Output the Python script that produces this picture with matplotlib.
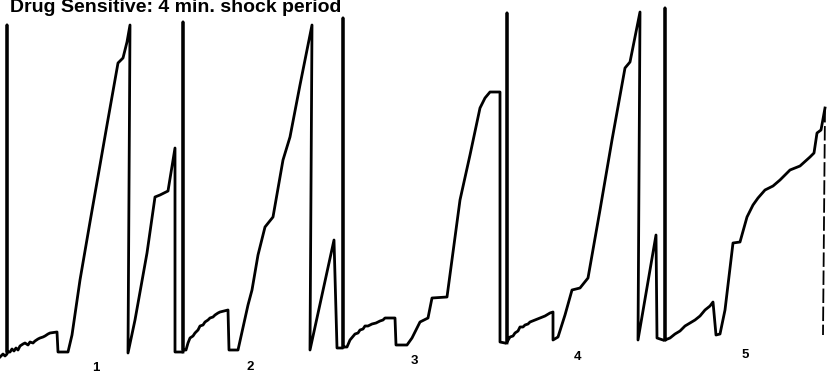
import matplotlib.pyplot as plt

# cumulative record (x = paper position, y = pen height, 0 at top)
rec1_x = [0, 3, 5, 7, 7, 7, 10, 12, 14, 16, 18, 20, 23, 25, 28, 30, 33, 35, 38, 40, 43, 45, 48, 50, 57,
          58, 68, 72, 80, 90, 100, 107, 118, 123, 127, 130, 128, 135, 147, 155, 160, 168, 175, 175, 182]
rec1_y = [357, 354, 356, 354, 25, 352, 352, 349, 351, 348, 350, 346, 344, 343, 345, 342, 343, 341, 339,
          338, 337, 336, 334, 333, 332, 352, 352, 335, 280, 222, 165, 125, 63, 58, 42, 25, 353, 320, 253,
          197, 195, 191, 148, 352, 352]

rec2_x = [183, 183, 183, 186, 188, 190, 193, 195, 198, 200, 203, 205, 208, 210, 213, 215, 218, 220,
          228, 229, 238, 248, 252, 258, 265, 273, 283, 290, 300, 312, 310, 334, 337, 342]
rec2_y = [352, 22, 350, 350, 343, 338, 336, 333, 330, 326, 325, 322, 320, 318, 317, 315, 313, 312,
          310, 350, 350, 305, 290, 255, 227, 217, 160, 137, 85, 25, 350, 240, 348, 348]

rec3_x = [343, 343, 343, 347, 350, 355, 358, 360, 363, 365, 368, 372, 376, 380, 383, 385, 395, 396,
          407, 412, 420, 428, 432, 447, 460, 470, 480, 485, 490, 500, 500, 505]
rec3_y = [347, 18, 347, 347, 340, 334, 333, 330, 329, 326, 326, 324, 323, 321, 320, 318, 318, 345,
          345, 338, 322, 318, 298, 297, 200, 155, 108, 98, 92, 92, 342, 343]

rec4_x = [507, 507, 507, 510, 513, 515, 518, 520, 523, 525, 528, 530, 535, 540, 545, 550, 553, 553,
          558, 565, 572, 580, 588, 600, 612, 625, 630, 640, 638, 656, 657, 663]
rec4_y = [343, 13, 342, 337, 336, 333, 331, 327, 327, 325, 324, 322, 320, 318, 316, 313, 312, 340,
          337, 315, 290, 288, 278, 210, 140, 68, 62, 12, 340, 235, 338, 340]

rec5_x = [665, 665, 665, 670, 675, 680, 685, 690, 695, 700, 705, 710, 713, 716, 720, 725, 733, 740,
          747, 753, 758, 765, 773, 780, 790, 800, 810, 814, 817, 821, 825]
rec5_y = [340, 8, 340, 338, 334, 331, 326, 323, 320, 316, 310, 306, 302, 335, 334, 310, 243, 242,
          217, 205, 198, 190, 186, 180, 170, 166, 157, 153, 133, 130, 108]

# last reset stroke is faint on the scan
reset5_x = [825, 823]
reset5_y = [108, 335]

session_labels = ['1', '2', '3', '4', '5']

fig = plt.figure(figsize=(8.29, 3.78), dpi=100)
ax = fig.add_axes([0, 0, 1, 1])

for xs, ys in [(rec1_x, rec1_y), (rec2_x, rec2_y), (rec3_x, rec3_y), (rec4_x, rec4_y), (rec5_x, rec5_y)]:
    ax.plot(xs, ys, color='black', linewidth=2.0, solid_joinstyle='round')
ax.plot(reset5_x, reset5_y, color='black', linewidth=1.3, linestyle=(0, (8, 2)))

# session numbers under each block
label_pos = [(96, 368), (250, 367), (414, 361), (578, 357), (745, 355)]
for lab, (lx, ly) in zip(session_labels, label_pos):
    ax.text(lx, ly, lab, fontsize=9.5, fontweight='bold', ha='center', va='center',
            family='Liberation Sans')

# title is clipped by the top edge in the scan
ax.text(10, 12, 'Drug Sensitive: 4 min. shock period', fontsize=14, fontweight='bold',
        ha='left', va='baseline', family='Liberation Sans')

ax.set_xlim(0, 829)
ax.set_ylim(378, 0)
ax.axis('off')

plt.savefig('out.png', dpi=100)
plt.close()
